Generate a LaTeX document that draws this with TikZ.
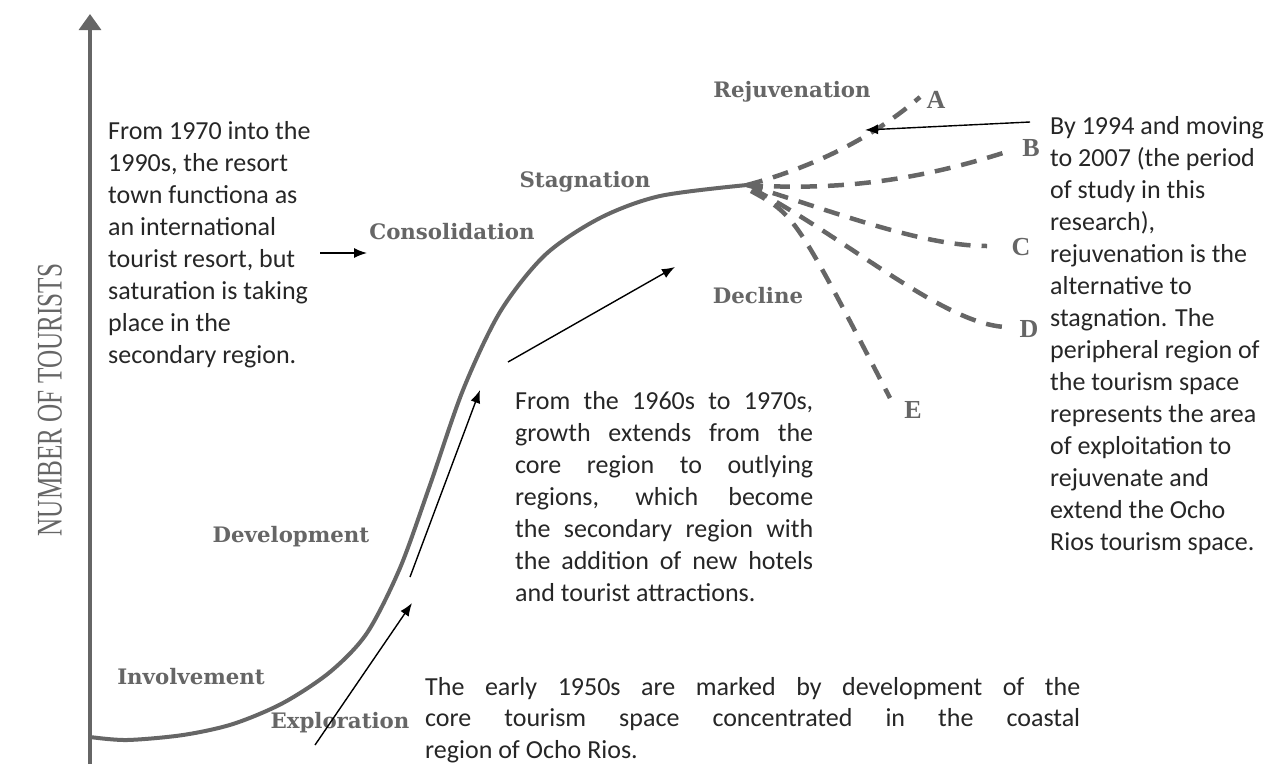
\documentclass[tikz,border=0pt]{standalone}
\usepackage{fontspec}
\setmainfont{Carlito}
\newfontfamily\stagefont{DejaVu Serif}
\newfontfamily\axisfont{Liberation Serif}
\usetikzlibrary{arrows.meta, positioning}

% one justified line of a given width
\newcommand{\jline}[2]{\makebox[#1][s]{#2}}

\begin{document}
\begin{tikzpicture}[
    x=1pt, y=-1pt,
    every node/.style={inner sep=0pt},
    note/.style={
        font=\fontsize{26}{32}\selectfont,
        align=left, anchor=north west,
        text=black!85
    },
    stage/.style={
        font=\stagefont\bfseries\fontsize{21.3}{24}\selectfont,
        text=black!60
    },
    letter/.style={
        font=\axisfont\bfseries\fontsize{26}{28}\selectfont,
        text=black!60
    },
    curve/.style={draw=black!60, line width=4pt},
    branch/.style={
        draw=black!60, line width=4.5pt,
        dash pattern=on 16pt off 11pt
    },
    arrow/.style={-{Latex[length=13pt,width=10pt]}, line width=1.4pt}
]
\useasboundingbox (0,0) rectangle (1279,764);

% ── Axis ──
\coordinate (origin) at (90,764);
\coordinate (ytop) at (90,14);
\draw[draw=black!60, line width=3.2pt, -{Triangle[length=16pt,width=22pt]}] (origin) -- (ytop);
\node[rotate=90, font=\axisfont\fontsize{36}{36}\selectfont, text=black!60] (ylab) at (50,400)
    {\scalebox{0.7}[1]{NUMBER OF TOURISTS}};

% ── Life cycle curve ──
\coordinate (peak) at (747,185);
\draw[curve] plot[smooth, tension=0.5] coordinates {
    (90,737) (127,740) (183,735) (233,724) (283,703) (330,672) (367,633)
    (400,568) (430,485) (463,390) (500,312) (545,255) (600,218) (660,196)
    (747,185)};

% ── Stage labels ──
\node[stage] (rejuv) at (792,92) {Rejuvenation};
\node[stage] (stagn) at (585,182) {Stagnation};
\node[stage] (consol) at (452,232) {Consolidation};
\node[stage] (decl) at (758,296) {Decline};
\node[stage] (devel) at (291,537) {Development};
\node[stage] (invol) at (191,677) {Involvement};
\node[stage] (explo) at (340,723) {Exploration};

% ── Branches after stagnation ──
\node[letter] (labA) at (936,100) {A};
\node[letter] (labB) at (1031,148) {B};
\node[letter] (labC) at (1021,247) {C};
\node[letter] (labD) at (1029,329) {D};
\node[letter] (labE) at (913,410) {E};

\coordinate (endA) at (920,97);
\coordinate (endB) at (1003,153);
\coordinate (endC) at (987,246);
\coordinate (endD) at (1012,327);
\coordinate (endE) at (890,398);

\draw[branch] (peak) .. controls (810,168) and (870,140) .. (endA);
\draw[branch] (peak) .. controls (850,192) and (930,176) .. (endB);
\draw[branch] (peak) .. controls (830,210) and (920,246) .. (endC);
\draw[branch] ([shift={(6,4)}]peak) .. controls (850,240) and (950,330) .. (endD);
\draw[branch] ([shift={(4,6)}]peak) .. controls (795,215) .. (endE);

% ── Notes ──
\node[note] (lefttxt) at (108,121) {From 1970 into the\\1990s, the resort\\town functiona as\\an international\\tourist resort, but\\saturation is taking\\place in the\\secondary region.};

\node[note] (righttxt) at (1050,116) {By 1994 and moving\\to 2007 (the period\\of study in this\\research),\\rejuvenation is the\\alternative to\\stagnation. The\\peripheral region of\\the tourism space\\represents the area\\of exploitation to\\rejuvenate and\\extend the Ocho\\Rios tourism space.};

\node[note] (midtxt) at (515,391) {\jline{298pt}{From the 1960s to 1970s,}\\
    \jline{298pt}{growth extends from the}\\
    \jline{298pt}{core region to outlying}\\
    \jline{298pt}{regions, which become}\\
    \jline{298pt}{the secondary region with}\\
    \jline{298pt}{the addition of new hotels}\\
    and tourist attractions.};

\node[note, font=\fontsize{26}{31.5}\selectfont] (lowtxt) at (425,677) {\jline{655pt}{The early 1950s are marked by development of the}\\
    \jline{655pt}{core tourism space concentrated in the coastal}\\
    region of Ocho Rios.};

% ── Arrows ──
\coordinate (a1s) at (320,253);
\coordinate (a1e) at (367,253);
\coordinate (a2s) at (1030,122);
\coordinate (a2e) at (865,130);
\coordinate (a3s) at (315,745);
\coordinate (a3e) at (412,603);
\coordinate (a4s) at (410,577);
\coordinate (a4e) at (480,390);
\coordinate (a5s) at (508,362);
\coordinate (a5e) at (675,267);

\draw[arrow] (a1s) -- (a1e);
\draw[arrow] (a2s) -- (a2e);
\draw[arrow] (a3s) -- (a3e);
\draw[arrow] (a4s) -- (a4e);
\draw[arrow] (a5s) -- (a5e);

\end{tikzpicture}
\end{document}
